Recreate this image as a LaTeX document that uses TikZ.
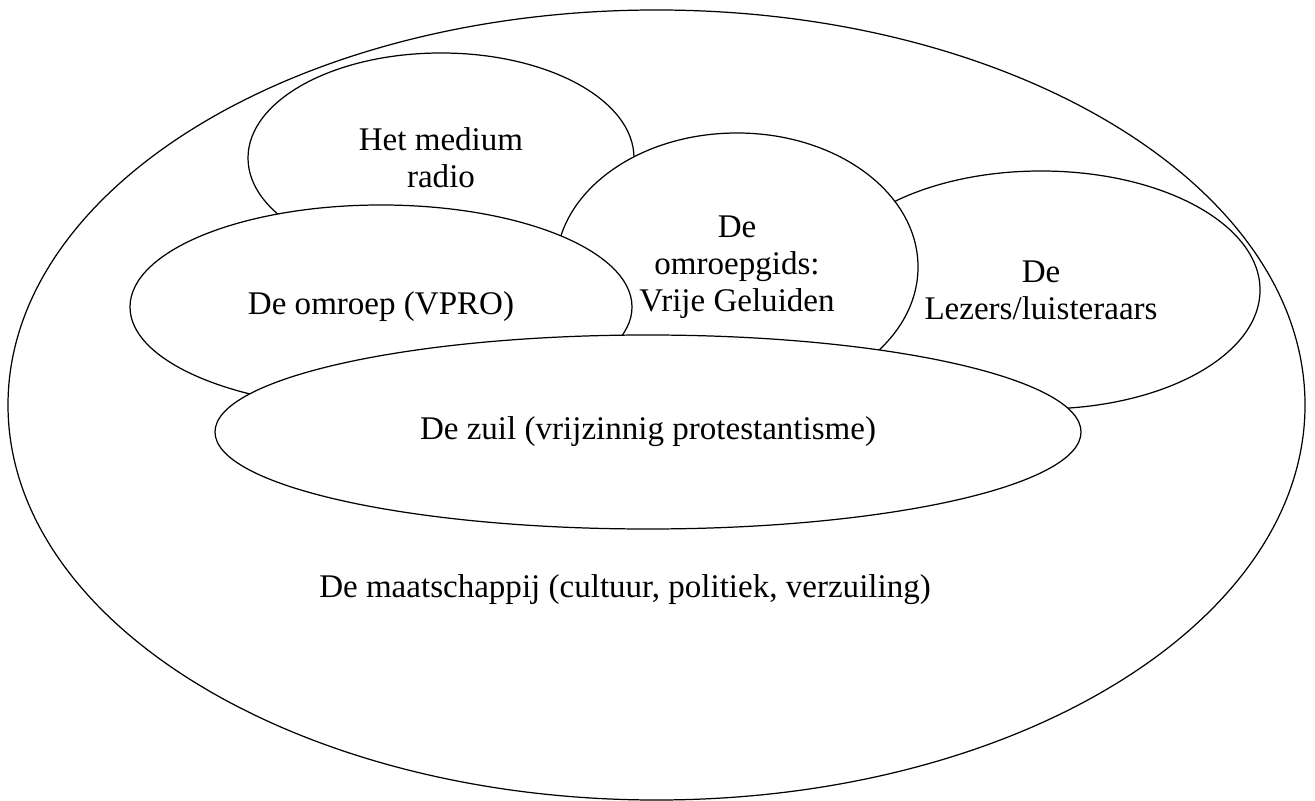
\documentclass[tikz,border=0pt]{standalone}
\usepackage{fontspec}
\setmainfont{Liberation Serif}
\usetikzlibrary{shapes.geometric}
\newcommand{\LineThick}{0.35pt}
\newcommand{\TextSize}{\fontsize{9.4}{10.6}\selectfont}

\begin{document}
\begin{tikzpicture}[x=1mm,y=1mm]
  \tikzstyle{every node}=[font=\TextSize, align=center]
  \tikzstyle{bubble}=[ellipse, draw=black, fill=white, line width=\LineThick, inner sep=0pt, outer sep=0pt]
  \useasboundingbox (0,0) rectangle (131.5,80);

  % Society
  \node[bubble, minimum width=129.7mm, minimum height=79mm] (maatschappij) at (65.65,39.5) {};
  \node (maatschappijtekst) at (62.5,21.0) {De maatschappij (cultuur, politiek, verzuiling)};

  % Medium
  \node[bubble, minimum width=38.6mm, minimum height=21mm] (medium) at (44.1,64.2) {Het medium\\radio};

  % Readers
  \node[bubble, minimum width=43.8mm, minimum height=23.8mm] (lezers) at (104.1,51.0) {De\\Lezers/luisteraars};

  % Guide
  \node[bubble, minimum width=36.2mm, minimum height=26.8mm] (omroepgids) at (73.7,53.3) {De\\omroepgids:\\Vrije Geluiden};

  % Broadcaster
  \node[bubble, minimum width=50.2mm, minimum height=20.4mm] (omroep) at (38.1,49.3) {De omroep (VPRO)};

  % Pillar
  \node[bubble, minimum width=86.6mm, minimum height=19.4mm] (zuil) at (64.8,36.8) {De zuil (vrijzinnig protestantisme)};
\end{tikzpicture}
\end{document}
